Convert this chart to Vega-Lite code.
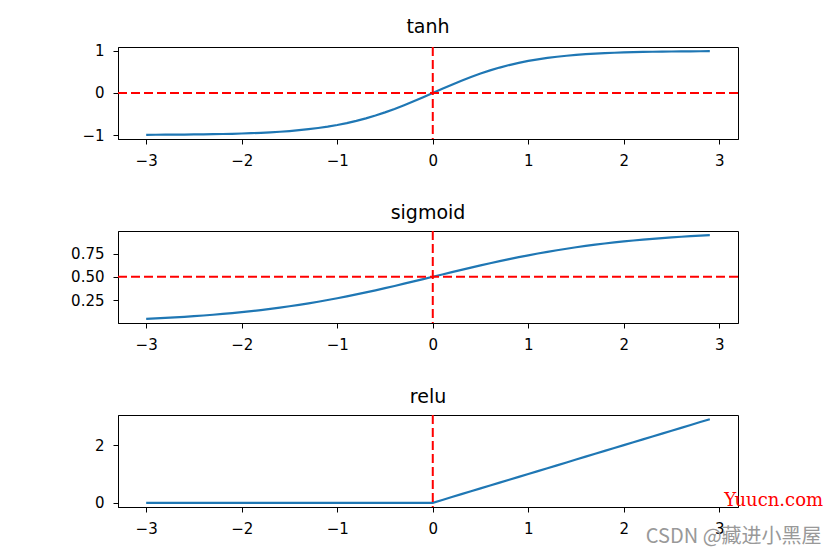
{
  "$schema": "https://vega.github.io/schema/vega-lite/v6.json",
  "padding": {"left": 70, "top": 17, "right": 5, "bottom": 5},
  "background": "white",
  "data": {"values": [
    {"x": -3.0, "tanh": -0.99505, "sigmoid": 0.04743, "relu": 0},
    {"x": -2.9, "tanh": -0.99396, "sigmoid": 0.05215, "relu": 0},
    {"x": -2.8, "tanh": -0.99263, "sigmoid": 0.05732, "relu": 0},
    {"x": -2.7, "tanh": -0.99101, "sigmoid": 0.06297, "relu": 0},
    {"x": -2.6, "tanh": -0.98903, "sigmoid": 0.06914, "relu": 0},
    {"x": -2.5, "tanh": -0.98661, "sigmoid": 0.07586, "relu": 0},
    {"x": -2.4, "tanh": -0.98367, "sigmoid": 0.08317, "relu": 0},
    {"x": -2.3, "tanh": -0.98010, "sigmoid": 0.09112, "relu": 0},
    {"x": -2.2, "tanh": -0.97574, "sigmoid": 0.09975, "relu": 0},
    {"x": -2.1, "tanh": -0.97045, "sigmoid": 0.10910, "relu": 0},
    {"x": -2.0, "tanh": -0.96403, "sigmoid": 0.11920, "relu": 0},
    {"x": -1.9, "tanh": -0.95624, "sigmoid": 0.13011, "relu": 0},
    {"x": -1.8, "tanh": -0.94681, "sigmoid": 0.14185, "relu": 0},
    {"x": -1.7, "tanh": -0.93541, "sigmoid": 0.15447, "relu": 0},
    {"x": -1.6, "tanh": -0.92167, "sigmoid": 0.16798, "relu": 0},
    {"x": -1.5, "tanh": -0.90515, "sigmoid": 0.18243, "relu": 0},
    {"x": -1.4, "tanh": -0.88535, "sigmoid": 0.19782, "relu": 0},
    {"x": -1.3, "tanh": -0.86172, "sigmoid": 0.21416, "relu": 0},
    {"x": -1.2, "tanh": -0.83365, "sigmoid": 0.23148, "relu": 0},
    {"x": -1.1, "tanh": -0.80050, "sigmoid": 0.24974, "relu": 0},
    {"x": -1.0, "tanh": -0.76159, "sigmoid": 0.26894, "relu": 0},
    {"x": -0.9, "tanh": -0.71630, "sigmoid": 0.28905, "relu": 0},
    {"x": -0.8, "tanh": -0.66404, "sigmoid": 0.31003, "relu": 0},
    {"x": -0.7, "tanh": -0.60437, "sigmoid": 0.33181, "relu": 0},
    {"x": -0.6, "tanh": -0.53705, "sigmoid": 0.35434, "relu": 0},
    {"x": -0.5, "tanh": -0.46212, "sigmoid": 0.37754, "relu": 0},
    {"x": -0.4, "tanh": -0.37995, "sigmoid": 0.40131, "relu": 0},
    {"x": -0.3, "tanh": -0.29131, "sigmoid": 0.42556, "relu": 0},
    {"x": -0.2, "tanh": -0.19738, "sigmoid": 0.45017, "relu": 0},
    {"x": -0.1, "tanh": -0.09967, "sigmoid": 0.47502, "relu": 0},
    {"x": 0.0, "tanh": 0.0, "sigmoid": 0.5, "relu": 0},
    {"x": 0.1, "tanh": 0.09967, "sigmoid": 0.52498, "relu": 0.1},
    {"x": 0.2, "tanh": 0.19738, "sigmoid": 0.54983, "relu": 0.2},
    {"x": 0.3, "tanh": 0.29131, "sigmoid": 0.57444, "relu": 0.3},
    {"x": 0.4, "tanh": 0.37995, "sigmoid": 0.59869, "relu": 0.4},
    {"x": 0.5, "tanh": 0.46212, "sigmoid": 0.62246, "relu": 0.5},
    {"x": 0.6, "tanh": 0.53705, "sigmoid": 0.64566, "relu": 0.6},
    {"x": 0.7, "tanh": 0.60437, "sigmoid": 0.66819, "relu": 0.7},
    {"x": 0.8, "tanh": 0.66404, "sigmoid": 0.68997, "relu": 0.8},
    {"x": 0.9, "tanh": 0.71630, "sigmoid": 0.71095, "relu": 0.9},
    {"x": 1.0, "tanh": 0.76159, "sigmoid": 0.73106, "relu": 1.0},
    {"x": 1.1, "tanh": 0.80050, "sigmoid": 0.75026, "relu": 1.1},
    {"x": 1.2, "tanh": 0.83365, "sigmoid": 0.76852, "relu": 1.2},
    {"x": 1.3, "tanh": 0.86172, "sigmoid": 0.78584, "relu": 1.3},
    {"x": 1.4, "tanh": 0.88535, "sigmoid": 0.80218, "relu": 1.4},
    {"x": 1.5, "tanh": 0.90515, "sigmoid": 0.81757, "relu": 1.5},
    {"x": 1.6, "tanh": 0.92167, "sigmoid": 0.83202, "relu": 1.6},
    {"x": 1.7, "tanh": 0.93541, "sigmoid": 0.84553, "relu": 1.7},
    {"x": 1.8, "tanh": 0.94681, "sigmoid": 0.85815, "relu": 1.8},
    {"x": 1.9, "tanh": 0.95624, "sigmoid": 0.86989, "relu": 1.9},
    {"x": 2.0, "tanh": 0.96403, "sigmoid": 0.88080, "relu": 2.0},
    {"x": 2.1, "tanh": 0.97045, "sigmoid": 0.89090, "relu": 2.1},
    {"x": 2.2, "tanh": 0.97574, "sigmoid": 0.90025, "relu": 2.2},
    {"x": 2.3, "tanh": 0.98010, "sigmoid": 0.90888, "relu": 2.3},
    {"x": 2.4, "tanh": 0.98367, "sigmoid": 0.91683, "relu": 2.4},
    {"x": 2.5, "tanh": 0.98661, "sigmoid": 0.92414, "relu": 2.5},
    {"x": 2.6, "tanh": 0.98903, "sigmoid": 0.93086, "relu": 2.6},
    {"x": 2.7, "tanh": 0.99101, "sigmoid": 0.93703, "relu": 2.7},
    {"x": 2.8, "tanh": 0.99263, "sigmoid": 0.94268, "relu": 2.8},
    {"x": 2.9, "tanh": 0.99396, "sigmoid": 0.94785, "relu": 2.9}
  ]},
  "bounds": "flush",
  "spacing": 92,
  "vconcat": [
    {
      "width": 620, "height": 92,
      "title": "tanh",
      "layer": [
        {"mark": {"type": "line", "color": "#1f77b4", "strokeWidth": 2.2},
         "encoding": {
           "x": {"field": "x", "type": "quantitative", "title": null, "scale": {"domain": [-3.295, 3.195], "nice": false, "zero": false}, "axis": {"values": [-3, -2, -1, 0, 1, 2, 3], "format": "d"}},
           "y": {"field": "tanh", "type": "quantitative", "title": null, "scale": {"domain": [-1.0945, 1.0934], "nice": false, "zero": false}, "axis": {"values": [-1, 0, 1], "format": "d"}}
         }},
        {"data": {"values": [{}]}, "mark": {"type": "rule", "color": "red", "strokeWidth": 2, "strokeDash": [9, 4]},
         "encoding": {"x": {"datum": 0, "type": "quantitative"}}},
        {"data": {"values": [{}]}, "mark": {"type": "rule", "color": "red", "strokeWidth": 2, "strokeDash": [9, 4]},
         "encoding": {"y": {"datum": 0, "type": "quantitative"}}}
      ]
    },
    {
      "width": 620, "height": 92,
      "title": "sigmoid",
      "layer": [
        {"mark": {"type": "line", "color": "#1f77b4", "strokeWidth": 2.2},
         "encoding": {
           "x": {"field": "x", "type": "quantitative", "title": null, "scale": {"domain": [-3.295, 3.195], "nice": false, "zero": false}, "axis": {"values": [-3, -2, -1, 0, 1, 2, 3], "format": "d"}},
           "y": {"field": "sigmoid", "type": "quantitative", "title": null, "scale": {"domain": [0.00241, 0.99287], "nice": false, "zero": false}, "axis": {"values": [0.25, 0.5, 0.75], "format": ".2f"}}
         }},
        {"data": {"values": [{}]}, "mark": {"type": "rule", "color": "red", "strokeWidth": 2, "strokeDash": [9, 4]},
         "encoding": {"x": {"datum": 0, "type": "quantitative"}}},
        {"data": {"values": [{}]}, "mark": {"type": "rule", "color": "red", "strokeWidth": 2, "strokeDash": [9, 4]},
         "encoding": {"y": {"datum": 0.5, "type": "quantitative"}}}
      ]
    },
    {
      "width": 620, "height": 92,
      "title": "relu",
      "layer": [
        {"mark": {"type": "line", "color": "#1f77b4", "strokeWidth": 2.2},
         "encoding": {
           "x": {"field": "x", "type": "quantitative", "title": null, "scale": {"domain": [-3.295, 3.195], "nice": false, "zero": false}, "axis": {"values": [-3, -2, -1, 0, 1, 2, 3], "format": "d"}},
           "y": {"field": "relu", "type": "quantitative", "title": null, "scale": {"domain": [-0.145, 3.045], "nice": false, "zero": false}, "axis": {"values": [0, 2], "format": "d"}}
         }},
        {"data": {"values": [{}]}, "mark": {"type": "rule", "color": "red", "strokeWidth": 2, "strokeDash": [9, 4]},
         "encoding": {"x": {"datum": 0, "type": "quantitative"}}},
        {"data": {"values": [{}]}, "mark": {"type": "text", "text": "Yuucn.com", "color": "#ff0000", "font": "DejaVu Serif", "fontSize": 18, "align": "left", "baseline": "alphabetic"},
         "encoding": {"x": {"datum": 3.05, "type": "quantitative"}, "y": {"datum": -0.1, "type": "quantitative"}}},
        {"data": {"values": [{}]}, "mark": {"type": "text", "text": "CSDN @藏进小黑屋", "color": "#999999", "font": "Noto Sans CJK SC", "fontSize": 20, "align": "left", "baseline": "alphabetic"},
         "encoding": {"x": {"datum": 2.23, "type": "quantitative"}, "y": {"datum": -1.383, "type": "quantitative"}}}
      ]
    }
  ],
  "config": {
    "view": {"stroke": "black", "strokeWidth": 1},
    "axis": {"grid": false, "domainColor": "black", "domainWidth": 1, "tickColor": "black", "tickWidth": 1, "tickSize": 5, "labelColor": "black", "labelFont": "DejaVu Sans", "labelFontSize": 15, "labelPadding": 9, "labelFlush": false, "labelOverlap": false},
    "title": {"font": "DejaVu Sans", "fontSize": 19, "fontWeight": "normal", "color": "black", "offset": 7}
  }
}
